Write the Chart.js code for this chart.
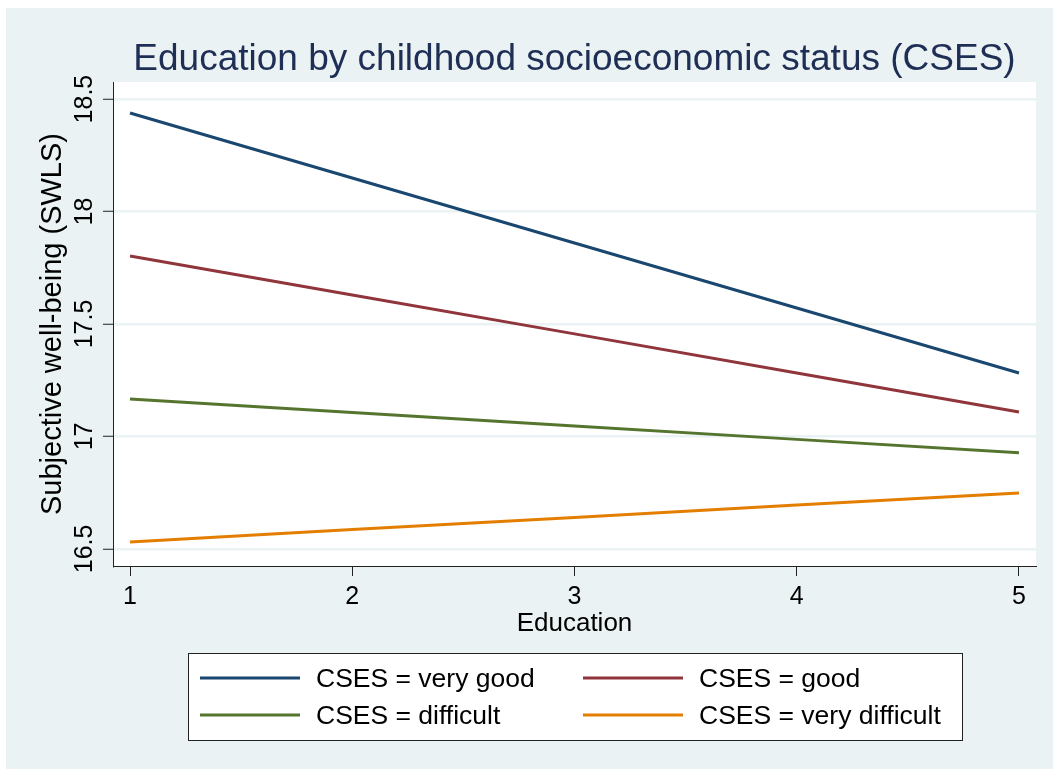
<!DOCTYPE html>
<html>
<head>
<meta charset="utf-8">
<script src="https://cdn.jsdelivr.net/npm/chart.js@4"></script>
<style>
  body { margin: 0; background: #fff; }
  #wrap { width: 1053px; height: 769px; position: relative; }
</style>
</head>
<body>
<div id="wrap"><canvas id="csesChart"></canvas></div>
<script>
// values
const educationLevels = [1, 2, 3, 4, 5];
const veryGood = [18.438, 18.149, 17.860, 17.571, 17.282];
const good = [17.802, 17.629, 17.456, 17.282, 17.109];
const difficult = [17.167, 17.107, 17.047, 16.987, 16.927];
const veryDifficult = [16.531, 16.586, 16.640, 16.695, 16.749];

const seriesNames = ['CSES = very good', 'CSES = good', 'CSES = difficult', 'CSES = very difficult'];
const seriesColors = ['#1a476f', '#90353b', '#55752f', '#e37e00'];
const xTicks = [1, 2, 3, 4, 5];
const yTicks = [16.5, 17, 17.5, 18, 18.5];
const yTickLabels = ['16.5', '17', '17.5', '18', '18.5'];

const chartTitle = 'Education by childhood socioeconomic status (CSES)';
const xTitle = 'Education';
const yTitle = 'Subjective well-being (SWLS)';

const FONT = '"Liberation Sans", Arial, sans-serif';
const BG = '#eaf2f3';

function toPoints(values) {
  return values.map((v, i) => ({ x: educationLevels[i], y: v }));
}

// stata-ish backdrop: light blue page, white plot region
const backdrop = {
  id: 'backdrop',
  beforeDraw(chart) {
    const { ctx, width, height, chartArea } = chart;
    ctx.save();
    ctx.fillStyle = '#fff';
    ctx.fillRect(0, 0, width, height);
    ctx.fillStyle = BG;
    ctx.fillRect(6, 8, width - 6, height - 8);
    ctx.fillStyle = '#fff';
    ctx.fillRect(chartArea.left, chartArea.top, chartArea.right - chartArea.left, chartArea.bottom - chartArea.top);
    ctx.restore();
  }
};

const extras = {
  id: 'extras',
  afterDraw(chart) {
    const { ctx, chartArea } = chart;
    const yScale = chart.scales.y;
    ctx.save();

    // title
    ctx.fillStyle = '#1e2e55';
    ctx.font = '37px ' + FONT;
    ctx.textAlign = 'center';
    ctx.textBaseline = 'alphabetic';
    ctx.fillText(chartTitle, (chartArea.left + chartArea.right) / 2, 70);

    // rotated y tick labels
    ctx.fillStyle = '#000';
    ctx.font = '25px ' + FONT;
    yTicks.forEach((v, i) => {
      const py = yScale.getPixelForValue(v);
      ctx.save();
      ctx.translate(92, py);
      ctx.rotate(-Math.PI / 2);
      ctx.textAlign = 'center';
      ctx.textBaseline = 'alphabetic';
      ctx.fillText(yTickLabels[i], 0, 0);
      ctx.restore();
    });

    // legend box, two columns
    const box = { x: 188, y: 653, w: 774, h: 87 };
    ctx.fillStyle = '#fff';
    ctx.fillRect(box.x, box.y, box.w, box.h);
    ctx.strokeStyle = '#222';
    ctx.lineWidth = 1;
    ctx.strokeRect(box.x + 0.5, box.y + 0.5, box.w, box.h);

    const cols = [200, 583];
    const rows = [678, 715];
    ctx.font = '26.5px ' + FONT;
    ctx.textAlign = 'left';
    ctx.textBaseline = 'middle';
    chart.data.datasets.forEach((ds, i) => {
      const cx = cols[i % 2];
      const cy = rows[Math.floor(i / 2)];
      ctx.strokeStyle = ds.borderColor;
      ctx.lineWidth = 3;
      ctx.beginPath();
      ctx.moveTo(cx, cy);
      ctx.lineTo(cx + 100, cy);
      ctx.stroke();
      ctx.fillStyle = '#000';
      ctx.fillText(ds.label, cx + 116, cy + 2);
    });

    ctx.restore();
  }
};

const ctx = document.getElementById('csesChart').getContext('2d');
const seriesData = [veryGood, good, difficult, veryDifficult];

new Chart(ctx, {
  type: 'line',
  data: {
    datasets: seriesData.map((vals, i) => ({
      label: seriesNames[i],
      data: toPoints(vals),
      borderColor: seriesColors[i],
      borderWidth: 3,
      pointRadius: 0,
      tension: 0,
      fill: false
    }))
  },
  options: {
    responsive: true,
    maintainAspectRatio: false,
    animation: false,
    layout: { padding: { top: 82, right: 17, left: 0, bottom: 130 } },
    plugins: {
      legend: { display: false },
      title: { display: false },
      tooltip: { enabled: false }
    },
    scales: {
      x: {
        type: 'linear',
        min: 0.9235,
        max: 5.0765,
        afterBuildTicks: (scale) => { scale.ticks = xTicks.map(v => ({ value: v })); },
        afterFit: (scale) => { scale.height = 73; },
        grid: { drawOnChartArea: false, drawTicks: true, tickLength: 10, tickColor: '#222', tickWidth: 1 },
        border: { display: true, color: '#222', width: 1 },
        ticks: { color: '#000', font: { family: FONT, size: 25 }, padding: 6, maxRotation: 0, autoSkip: false },
        title: { display: true, text: xTitle, color: '#000', font: { family: FONT, size: 26, lineHeight: 1.2 }, padding: { top: 0, bottom: 0 } }
      },
      y: {
        type: 'linear',
        min: 16.424,
        max: 18.576,
        afterBuildTicks: (scale) => { scale.ticks = yTicks.map(v => ({ value: v })); },
        afterFit: (scale) => { scale.width = 113; },
        grid: { color: BG, lineWidth: 2.5, drawTicks: true, tickLength: 10, tickColor: '#222', tickWidth: 1 },
        border: { display: true, color: '#222', width: 1 },
        ticks: { display: false },
        title: { display: true, text: yTitle, color: '#000', font: { family: FONT, size: 29, lineHeight: 1.2 }, padding: { top: 36, bottom: 0 } }
      }
    }
  },
  plugins: [backdrop, extras]
});
</script>
</body>
</html>
